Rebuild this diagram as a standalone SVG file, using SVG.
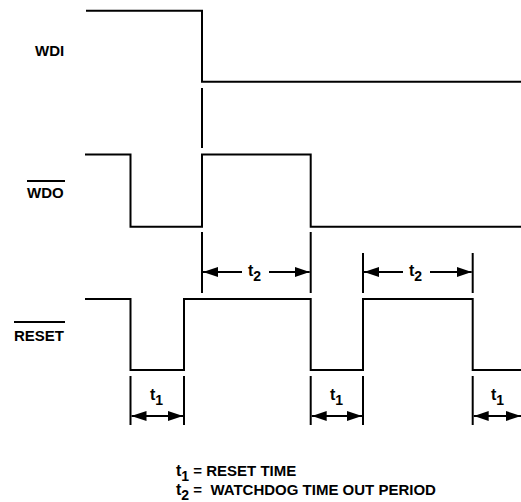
<svg xmlns="http://www.w3.org/2000/svg" width="521" height="502" viewBox="0 0 521 502">
<style>
.w{fill:none;stroke:#000;stroke-width:2;stroke-linejoin:miter}
.tk{stroke:#000;stroke-width:2}
.ar{stroke:#000;stroke-width:2;fill:none}
.lb{font-family:"Liberation Sans",Arial,sans-serif;font-weight:bold;font-size:15px;fill:#000}
.tt{font-family:"Liberation Sans",Arial,sans-serif;font-weight:bold;font-size:16px;fill:#000}
.sb{font-size:14px}
</style>
<defs>
<marker id="ah" viewBox="0 0 15 10" refX="15" refY="5" markerWidth="15" markerHeight="10" markerUnits="userSpaceOnUse" orient="auto-start-reverse">
<path d="M0,0 L15,5 L0,10 Z" fill="#000"/>
</marker>
</defs>
<rect width="521" height="502" fill="#fff"/>
<g id="wdi">
<text class="lb" x="35" y="56">WDI</text>
<path class="w" d="M86,10.7 H202 V81.7 H521"/>
</g>
<g id="wdo">
<text class="lb" x="27" y="198">WDO</text>
<line class="tk" x1="27" y1="181" x2="65" y2="181" stroke-width="1.5"/>
<path class="w" d="M85,154.5 H130.5 V226.7 H202 V154.5 H310.7 V226.7 H521"/>
</g>
<g id="reset">
<text class="lb" x="14" y="341">RESET</text>
<line class="tk" x1="14" y1="322" x2="65" y2="322" stroke-width="1.5"/>
<path class="w" d="M85,299 H130.5 V370 H184 V299 H310.7 V370 H363 V299 H472.7 V370 H521"/>
</g>
<g id="connectors">
<line class="tk" x1="202" y1="88" x2="202" y2="148"/>
<line class="tk" x1="202" y1="232" x2="202" y2="293"/>
<line class="tk" x1="310.7" y1="232" x2="310.7" y2="293"/>
<line class="tk" x1="363" y1="253" x2="363" y2="293"/>
<line class="tk" x1="472.7" y1="253" x2="472.7" y2="293"/>
<line class="tk" x1="130.5" y1="376" x2="130.5" y2="425"/>
<line class="tk" x1="184" y1="376" x2="184" y2="425"/>
<line class="tk" x1="310.7" y1="376" x2="310.7" y2="425"/>
<line class="tk" x1="363" y1="376" x2="363" y2="425"/>
<line class="tk" x1="472.7" y1="376" x2="472.7" y2="425"/>
<line class="ar" x1="242" y1="272" x2="203" y2="272" marker-end="url(#ah)"/>
<line class="ar" x1="269" y1="272" x2="309.7" y2="272" marker-end="url(#ah)"/>
<line class="ar" x1="403" y1="272" x2="364" y2="272" marker-end="url(#ah)"/>
<line class="ar" x1="430" y1="272" x2="471.7" y2="272" marker-end="url(#ah)"/>
<line class="ar" x1="131.5" y1="416" x2="183" y2="416" marker-start="url(#ah)" marker-end="url(#ah)"/>
<line class="ar" x1="311.7" y1="416" x2="362" y2="416" marker-start="url(#ah)" marker-end="url(#ah)"/>
<line class="ar" x1="473.7" y1="416" x2="521" y2="416" marker-start="url(#ah)"/>
<path d="M506,411 L521,416 L506,421 Z" fill="#000"/>
</g>
<g id="labels">
<text class="tt" x="248" y="276">t<tspan class="sb" dy="5">2</tspan></text>
<text class="tt" x="409" y="276">t<tspan class="sb" dy="5">2</tspan></text>
<text class="tt" x="150" y="400">t<tspan class="sb" dy="5">1</tspan></text>
<text class="tt" x="330" y="400">t<tspan class="sb" dy="5">1</tspan></text>
<text class="tt" x="491" y="400">t<tspan class="sb" dy="5">1</tspan></text>
<text class="lb" x="176" y="476"><tspan font-size="16">t</tspan><tspan class="sb" dy="5">1</tspan><tspan dy="-5" xml:space="preserve"> = RESET TIME</tspan></text>
<text class="lb" x="176" y="495"><tspan font-size="16">t</tspan><tspan class="sb" dy="5">2</tspan><tspan dy="-5" xml:space="preserve"> =  WATCHDOG TIME OUT PERIOD</tspan></text>
</g>
</svg>
